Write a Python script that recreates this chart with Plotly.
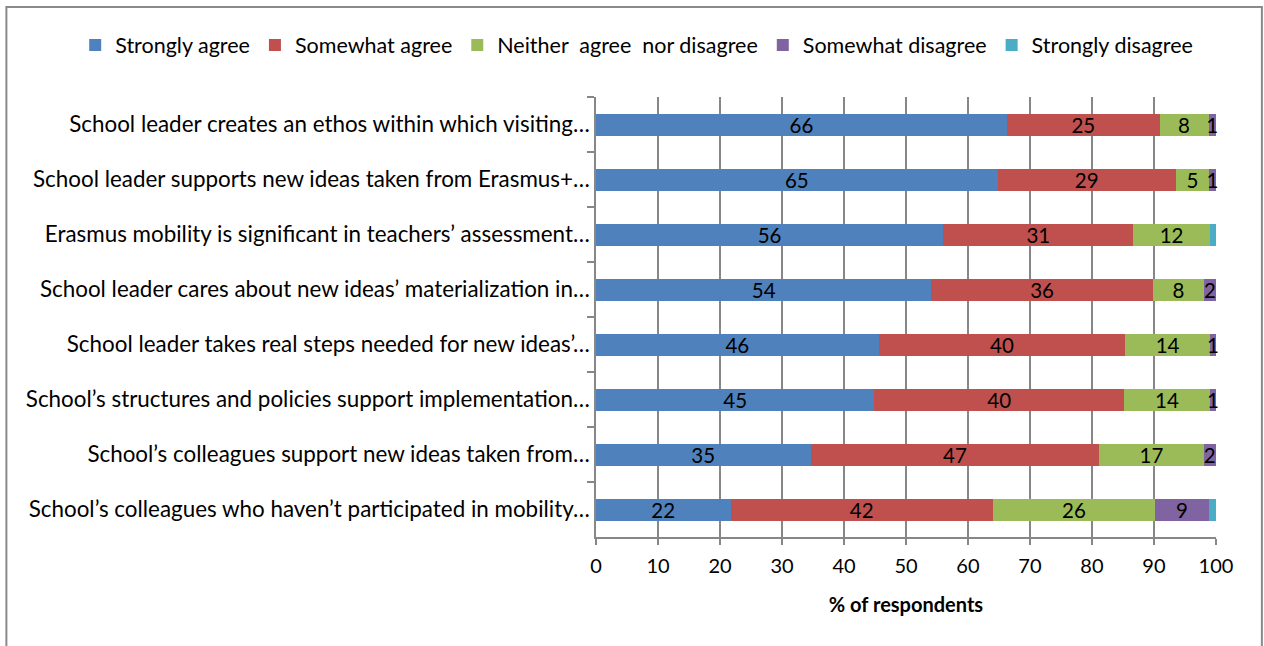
import plotly.graph_objects as go

# Statements, listed top to bottom
statements = [
    "School leader creates an ethos within which visiting…",
    "School leader supports new ideas taken from Erasmus+…",
    "Erasmus mobility is significant in teachers’ assessment…",
    "School leader cares about new ideas’ materialization in…",
    "School leader takes real steps needed for new ideas’…",
    "School’s structures and policies support implementation…",
    "School’s colleagues support new ideas taken from…",
    "School’s colleagues who haven’t participated in mobility…",
]

# Share of respondents (%) per answer category
strongly_agree = [66.3, 64.8, 56.0, 54.1, 45.6, 44.9, 34.6, 21.7]
somewhat_agree = [24.6, 28.7, 30.7, 35.7, 39.8, 40.3, 46.6, 42.3]
neither = [7.9, 5.4, 12.3, 8.3, 13.6, 13.8, 16.8, 26.2]
somewhat_disagree = [1.2, 1.1, 0.0, 1.9, 1.0, 1.0, 2.0, 8.6]
strongly_disagree = [0.0, 0.0, 1.0, 0.0, 0.0, 0.0, 0.0, 1.2]

x_ticks = [0, 10, 20, 30, 40, 50, 60, 70, 80, 90, 100]

FONT = "Lato"
series = [
    ("Strongly agree", strongly_agree, "#4F81BD", True),
    ("Somewhat agree", somewhat_agree, "#C0504D", True),
    ("Neither  agree  nor disagree", neither, "#9BBB59", True),
    ("Somewhat disagree", somewhat_disagree, "#8064A2", True),
    ("Strongly disagree", strongly_disagree, "#4BACC6", False),
]

fig = go.Figure()
for name, vals, color, labelled in series:
    txt = [f"{v:.0f}" if (labelled and v > 0) else "" for v in vals]
    fig.add_trace(go.Bar(
        name=name,
        y=statements,
        x=vals,
        orientation="h",
        marker=dict(color=color, line=dict(width=0)),
        text=txt,
        textposition="inside",
        insidetextanchor="middle",
        textangle=0,
        textfont=dict(family=FONT, size=20.5, color="black"),
        constraintext="none",
        cliponaxis=False,
    ))

grid = "#878787"
fig.update_layout(
    width=1264,
    height=646,
    barmode="stack",
    bargap=0.6,
    paper_bgcolor="white",
    plot_bgcolor="white",
    margin=dict(l=596, r=48, t=97, b=109, autoexpand=False),
    font=dict(family=FONT, size=20, color="black"),
    uniformtext=dict(minsize=20.5, mode="show"),
    legend=dict(
        orientation="h",
        x=-0.840, xanchor="left",
        y=1.118, yanchor="middle",
        font=dict(family=FONT, size=21.5, color="black"),
        itemwidth=30,
        bgcolor="rgba(0,0,0,0)",
        traceorder="normal",
    ),
    xaxis=dict(
        range=[0, 100.01],
        tickvals=x_ticks,
        showgrid=True, gridcolor=grid, gridwidth=1.5,
        showline=True, linecolor=grid, linewidth=1.5,
        ticks="outside", ticklen=6, tickcolor=grid, tickwidth=1.5,
        ticklabelstandoff=4,
        tickfont=dict(family=FONT, size=20, color="black"),
        zeroline=False,
        title=dict(text="<b>% of respondents</b>", font=dict(family=FONT, size=20, color="black"), standoff=22),
    ),
    yaxis=dict(
        autorange="reversed",
        showgrid=False,
        showline=True, linecolor=grid, linewidth=1.5,
        ticks="outside", ticklen=7, tickcolor=grid, tickwidth=1.5,
        tickson="boundaries",
        tickfont=dict(family=FONT, size=22.4, color="black"),
    ),
    shapes=[dict(
        type="rect", xref="paper", yref="paper",
        x0=-0.951, x1=1.074, y0=-0.3, y1=1.2045,
        line=dict(color="#8a8a8a", width=2),
        fillcolor="rgba(0,0,0,0)", layer="below",
    )],
)

fig.write_html("out.html")
